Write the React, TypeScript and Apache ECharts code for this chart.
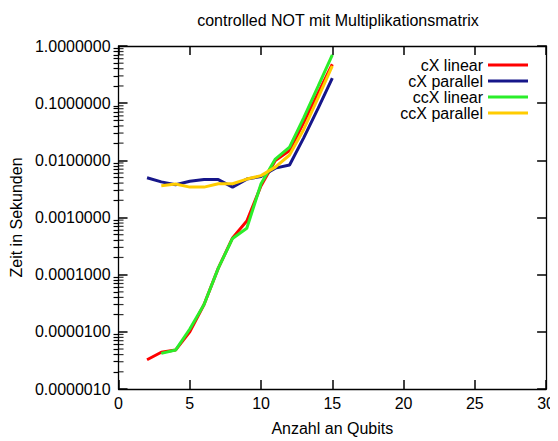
import React, { useEffect, useRef } from "react";
import * as echarts from "echarts";

const qubitsA = [2, 3, 4, 5, 6, 7, 8, 9, 10, 11, 12, 13, 14, 15];
const qubitsB = [3, 4, 5, 6, 7, 8, 9, 10, 11, 12, 13, 14, 15];

const cxLinear = [3.25e-6, 4.4e-6, 4.8e-6, 1.0e-5, 3.0e-5, 1.3e-4, 4.4e-4, 8.7e-4, 3.6e-3, 9.9e-3, 0.0148, 0.046, 0.15, 0.48];
const cxParallel = [0.00495, 0.0042, 0.00375, 0.0043, 0.0046, 0.0046, 0.0034, 0.0047, 0.0052, 0.0073, 0.0083, 0.025, 0.081, 0.275];
const ccxLinear = [4.2e-6, 4.8e-6, 1.12e-5, 3.0e-5, 1.3e-4, 4.3e-4, 6.5e-4, 3.9e-3, 0.0105, 0.017, 0.056, 0.197, 0.7];
const ccxParallel = [0.0036, 0.00385, 0.0034, 0.0034, 0.0039, 0.0039, 0.0047, 0.0054, 0.0076, 0.0124, 0.035, 0.124, 0.45];

const seriesNames = ["cX linear", "cX parallel", "ccX linear", "ccX parallel"];
const seriesColors = ["#ff0000", "#16168a", "#2aee2a", "#ffcc00"];

const title = "controlled NOT mit Multiplikationsmatrix";
const xName = "Anzahl an Qubits";
const yName = "Zeit in Sekunden";

const FONT = "'Liberation Sans', Arial, sans-serif";

function minorTickValues(): number[] {
  const out: number[] = [];
  for (let e = -6; e < 0; e++) {
    for (let m = 2; m <= 9; m++) out.push(m * Math.pow(10, e));
  }
  return out;
}

export default function App() {
  const ref = useRef<HTMLDivElement>(null);
  useEffect(() => {
    if (!ref.current) return;
    const chart = echarts.init(ref.current, null, { renderer: "svg" });
    const zip = (xs: number[], ys: number[]) => xs.map((x, i) => [x, ys[i]]);
    const datasets = [zip(qubitsA, cxLinear), zip(qubitsA, cxParallel), zip(qubitsB, ccxLinear), zip(qubitsB, ccxParallel)];
    const mkTick = () => ({ show: true, inside: true, length: 9, lineStyle: { color: "#000", width: 1.5 } });
    const mkLine = () => ({ show: true, onZero: false, lineStyle: { color: "#000", width: 1.3 } });
    const minor = minorTickValues();
    chart.setOption({
      animation: false,
      textStyle: { fontFamily: FONT },
      title: {
        text: title,
        left: 333,
        textAlign: "center",
        top: 7,
        textStyle: { fontFamily: FONT, fontSize: 16, fontWeight: "normal", color: "#000" },
      },
      grid: { left: 116, right: 10, top: 46, bottom: 49 },
      legend: {
        data: seriesNames.map((n) => ({ name: n, icon: "rect" })),
        orient: "vertical",
        align: "right",
        right: 25,
        top: 52,
        itemWidth: 40,
        itemHeight: 3,
        itemGap: 0,
        textStyle: { fontFamily: FONT, fontSize: 16, color: "#000", padding: [0, 0, 0, 0] },
      },
      xAxis: [
        {
          type: "value",
          min: 0,
          max: 30,
          interval: 5,
          name: xName,
          nameLocation: "middle",
          nameGap: 31,
          nameTextStyle: { fontFamily: FONT, fontSize: 16, color: "#000" },
          axisLine: mkLine(),
          axisTick: mkTick(),
          splitLine: { show: false },
          axisLabel: { fontFamily: FONT, fontSize: 16, color: "#000", margin: 6 },
        },
        {
          type: "value",
          position: "top",
          min: 0,
          max: 30,
          interval: 5,
          axisLine: mkLine(),
          axisTick: mkTick(),
          splitLine: { show: false },
          axisLabel: { show: false },
        },
      ],
      yAxis: [
        {
          type: "log",
          logBase: 10,
          min: 1e-6,
          max: 1,
          name: yName,
          nameLocation: "middle",
          nameGap: 85,
          nameTextStyle: { fontFamily: FONT, fontSize: 16, color: "#000" },
          axisLine: mkLine(),
          axisTick: mkTick(),
          splitLine: { show: false },
          axisLabel: {
            fontFamily: FONT,
            fontSize: 16,
            color: "#000",
            margin: 8,
            formatter: (v: number) => Number(v).toFixed(7),
          },
        },
        {
          type: "log",
          logBase: 10,
          min: 1e-6,
          max: 1,
          position: "right",
          axisLine: mkLine(),
          axisTick: mkTick(),
          splitLine: { show: false },
          axisLabel: { show: false },
        },
        {
          type: "log",
          logBase: 10,
          min: 1e-6,
          max: 1,
          position: "right",
          axisLine: { show: false },
          axisTick: { show: true, inside: true, length: 5, customValues: minor, lineStyle: { color: "#000", width: 1.2 } },
          splitLine: { show: false },
          axisLabel: { show: false },
        },
      ],
      series: [
        ...seriesNames.map((name, i) => ({
          name,
          type: "line",
          data: datasets[i],
          showSymbol: false,
          symbol: "none",
          lineStyle: { color: seriesColors[i], width: 3 },
          itemStyle: { color: seriesColors[i] },
          z: 3 + i,
        })),
        {
          type: "scatter",
          name: "minorLeft",
          symbol: "rect",
          symbolSize: [5, 1.2],
          symbolOffset: [2.5, 0],
          itemStyle: { color: "#000" },
          data: minor.map((v) => [0, v]),
          z: 10,
        },
      ],
    });
    return () => chart.dispose();
  }, []);
  return <div ref={ref} style={{ width: 558, height: 441, marginLeft: -8, marginTop: -8 }} />;
}
